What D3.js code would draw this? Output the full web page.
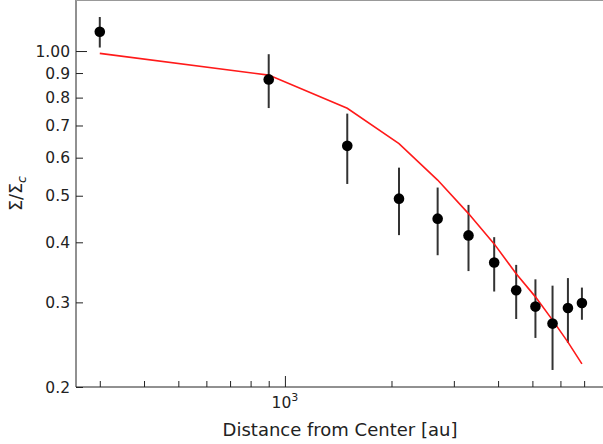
<!DOCTYPE html>
<html>
<head>
<meta charset="utf-8">
<script src="https://cdn.jsdelivr.net/npm/d3@7"></script>
<style>
  html, body { margin: 0; padding: 0; background: #fff; }
  svg { display: block; }
  text { font-family: "DejaVu Sans", sans-serif; fill: #222; }
</style>
</head>
<body>
<svg id="chart" width="603" height="444"></svg>
<script>
// ---- data ----
const distance = [300, 900, 1500, 2100, 2700, 3300, 3900, 4500, 5100, 5700, 6300, 6900];
const sigmaRatio = [1.097, 0.873, 0.635, 0.493, 0.448, 0.4135, 0.363, 0.318, 0.294, 0.271, 0.292, 0.299];
const sigmaErr = [0.08, 0.112, 0.106, 0.079, 0.072, 0.065, 0.047, 0.041, 0.041, 0.054, 0.045, 0.023];
const modelRatio = [0.989, 0.891, 0.760, 0.642, 0.539, 0.459, 0.397, 0.344, 0.308, 0.2755, 0.248, 0.2235];
const xMajorTicks = [1000];
const xMinorTicks = [300, 400, 500, 600, 700, 800, 900, 2000, 3000, 4000, 5000, 6000, 7000, 8000];
const yMajorTicks = [1.0];
const yMajorLabels = ["1.00"];
const yMinorTicks = [0.2, 0.3, 0.4, 0.5, 0.6, 0.7, 0.8, 0.9];
const yMinorLabels = ["0.2", "0.3", "0.4", "0.5", "0.6", "0.7", "0.8", "0.9"];

const svg = d3.select("#chart");
const L = 76, R = 606, T = 0, B = 387;

const x = d3.scaleLog().domain([257, 8070]).range([L, R]);
const y = d3.scaleLog().domain([0.2, 1.277]).range([B, T]);

const g = svg.append("g");

svg.append("defs").append("clipPath").attr("id", "clip")
  .append("rect").attr("x", L).attr("y", T).attr("width", R - L).attr("height", B - T);

// x axis ticks (inward)
const xAxisMajor = d3.axisBottom(x).tickValues(xMajorTicks).tickSizeInner(-11).tickSizeOuter(0).tickFormat("");
const xAxisMinor = d3.axisBottom(x).tickValues(xMinorTicks).tickSizeInner(-6).tickSizeOuter(0).tickFormat("");
[xAxisMajor, xAxisMinor].forEach(ax => {
  const a = g.append("g").attr("transform", `translate(0,${B})`).call(ax);
  a.select(".domain").remove();
  a.selectAll(".tick line").attr("stroke", "#222").attr("stroke-width", 1);
  a.selectAll(".tick").filter(d => x(d) > 603).remove();
});

// x tick label 10^3
xMajorTicks.forEach(v => {
  const t = g.append("text").attr("x", x(v)).attr("y", 408).attr("text-anchor", "middle")
    .style("font-size", "15.5px");
  t.append("tspan").text("10");
  t.append("tspan").attr("dy", -7).style("font-size", "11px").text(Math.round(Math.log10(v)));
});

// y axis ticks (inward)
const yAxisMajor = d3.axisLeft(y).tickValues(yMajorTicks).tickSizeInner(-11).tickSizeOuter(0).tickFormat("");
const yAxisMinor = d3.axisLeft(y).tickValues(yMinorTicks).tickSizeInner(-7).tickSizeOuter(0).tickFormat("");
[yAxisMajor, yAxisMinor].forEach(ax => {
  const a = g.append("g").attr("transform", `translate(${L},0)`).call(ax);
  a.select(".domain").remove();
  a.selectAll(".tick line").attr("stroke", "#222").attr("stroke-width", 1);
});
yMajorTicks.forEach((v, i) => {
  g.append("text").attr("x", 70).attr("y", y(v)).attr("dy", "0.36em").attr("text-anchor", "end")
    .style("font-size", "15.5px").text(yMajorLabels[i]);
});
yMinorTicks.forEach((v, i) => {
  g.append("text").attr("x", 70).attr("y", y(v)).attr("dy", "0.36em").attr("text-anchor", "end")
    .style("font-size", "15.5px").text(yMinorLabels[i]);
});

// spines
g.append("line").attr("x1", L).attr("x2", L).attr("y1", T).attr("y2", B).attr("stroke", "#222").attr("stroke-width", 1);
g.append("line").attr("x1", L).attr("x2", R).attr("y1", B).attr("y2", B).attr("stroke", "#222").attr("stroke-width", 1);
g.append("line").attr("x1", L).attr("x2", R).attr("y1", 0.5).attr("y2", 0.5).attr("stroke", "#999").attr("stroke-width", 1);

const plot = g.append("g").attr("clip-path", "url(#clip)");

// error bars
plot.selectAll("line.err").data(distance).enter().append("line")
  .attr("class", "err")
  .attr("x1", d => x(d)).attr("x2", d => x(d))
  .attr("y1", (d, i) => y(sigmaRatio[i] - sigmaErr[i]))
  .attr("y2", (d, i) => y(sigmaRatio[i] + sigmaErr[i]))
  .attr("stroke", "#333").attr("stroke-width", 2);

// model line
const line = d3.line().x(d => x(d[0])).y(d => y(d[1]));
plot.append("path").datum(distance.map((d, i) => [d, modelRatio[i]]))
  .attr("d", line).attr("fill", "none").attr("stroke", "#ff1a1a").attr("stroke-width", 1.6);

// markers
plot.selectAll("circle").data(distance).enter().append("circle")
  .attr("cx", d => x(d)).attr("cy", (d, i) => y(sigmaRatio[i]))
  .attr("r", 5.3).attr("fill", "#000");

// axis labels
g.append("text").attr("x", (L + R) / 2 - 1).attr("y", 436).attr("text-anchor", "middle")
  .style("font-size", "18px").text("Distance from Center [au]");

const yl = g.append("text").attr("transform", `translate(22,${(T + B) / 2}) rotate(-90)`)
  .attr("text-anchor", "middle").style("font-size", "17.5px");
yl.append("tspan").text("Σ/Σ");
yl.append("tspan").attr("dy", 3.5).style("font-size", "12.5px").style("font-style", "italic").text("c");
</script>
</body>
</html>
